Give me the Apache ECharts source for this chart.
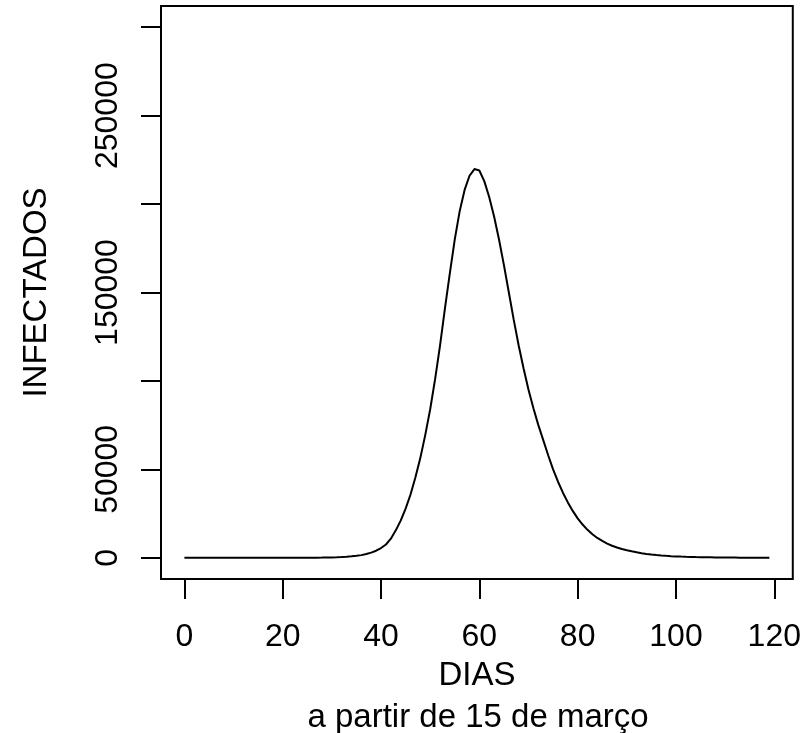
<!DOCTYPE html>
<html>
<head>
<meta charset="utf-8">
<script src="https://cdn.jsdelivr.net/npm/echarts@6/dist/echarts.min.js"></script>
<style>
html,body{margin:0;padding:0;background:#fff;}
#chart{width:804px;height:733px;}
</style>
</head>
<body>
<div id="chart"></div>
<script>
// ---- data ----
const days = Array.from({length: 120}, (_, i) => i);
const infectados = [
  1, 1, 1, 1, 1, 1, 1, 1, 1, 1,
  1, 1, 1, 1, 1, 2, 2, 3, 5, 6,
  9, 12, 17, 23, 32, 45, 60, 85, 115, 160,
  220, 300, 420, 580, 800, 1100, 1500, 2100, 2900, 4000,
  5500, 7500, 10800, 15500, 21000, 27800, 35800, 45500, 56500, 69500,
  84000, 101000, 120000, 141000, 161000, 180000, 196000, 208000, 216000, 219800,
  219000, 213000, 204000, 193000, 180000, 165500, 150000, 134500, 120000, 107000,
  95000, 84500, 75000, 66500, 58000, 50000, 43000, 36800, 31300, 26500,
  22300, 18800, 15800, 13300, 11200, 9500, 8000, 6800, 5800, 4950,
  4250, 3650, 3100, 2600, 2200, 1850, 1550, 1300, 1100, 930,
  780, 660, 555, 470, 395, 335, 280, 237, 200, 170,
  143, 120, 102, 86, 72, 61, 52, 44, 37, 31
];
const xTicks = [0, 20, 40, 60, 80, 100, 120];
const yTicks = [0, 50000, 100000, 150000, 200000, 250000, 300000];
const yTickLabels = [0, 50000, 150000, 250000];
const xTitle = 'DIAS';
const yTitle = 'INFECTADOS';
const subTitle = 'a partir de 15 de março';

// ---- layout (R-style 4% axis extension) ----
const xLo = 0, xHi = 119;
const yLo = 0, yHi = 300000;
const xPad = (xHi - xLo) * 0.04, yPad = (yHi - yLo) * 0.04;
const FONT = '"Liberation Sans", Arial, Helvetica, sans-serif';
const FS = 32;   // tick labels
const TS = 33;   // titles

const chart = echarts.init(document.getElementById('chart'), null, {renderer: 'canvas'});
chart.setOption({
  backgroundColor: '#ffffff',
  animation: false,
  grid: {left: 161, right: 9, top: 6, bottom: 154, show: true, borderColor: '#000', borderWidth: 2, backgroundColor: 'transparent'},
  xAxis: {
    type: 'value',
    min: xLo - xPad, max: xHi + xPad,
    splitLine: {show: false},
    axisLine: {show: false, onZero: false},
    axisTick: {show: true, inside: false, length: 20, customValues: xTicks, lineStyle: {color: '#000', width: 2}},
    axisLabel: {show: true, customValues: xTicks, margin: 42, color: '#000', fontFamily: FONT, fontSize: FS, lineHeight: FS, formatter: v => String(v)},
    name: xTitle, nameLocation: 'middle', nameGap: 80,
    nameTextStyle: {color: '#000', fontFamily: FONT, fontSize: TS, lineHeight: TS}
  },
  yAxis: {
    type: 'value',
    min: yLo - yPad, max: yHi + yPad,
    splitLine: {show: false},
    axisLine: {show: false, onZero: false},
    axisTick: {show: true, inside: false, length: 20, customValues: yTicks, lineStyle: {color: '#000', width: 2}},
    axisLabel: {show: true, customValues: yTickLabels, rotate: 90, align: 'center', verticalAlign: 'bottom', margin: 37, color: '#000', fontFamily: FONT, fontSize: FS, lineHeight: FS, formatter: v => String(v)},
    name: yTitle, nameLocation: 'middle', nameGap: 108, nameRotate: 90,
    nameTextStyle: {color: '#000', fontFamily: FONT, fontSize: TS, lineHeight: TS}
  },
  graphic: [{
    type: 'text',
    x: 478, y: 718,
    style: {text: subTitle, fill: '#000', font: TS + 'px ' + FONT, align: 'center', verticalAlign: 'middle'}
  }],
  series: [{
    type: 'line',
    data: days.map((d, i) => [d, infectados[i]]),
    showSymbol: false,
    symbol: 'none',
    lineStyle: {color: '#000', width: 2},
    itemStyle: {color: '#000'},
    clip: true
  }]
});
</script>
</body>
</html>
